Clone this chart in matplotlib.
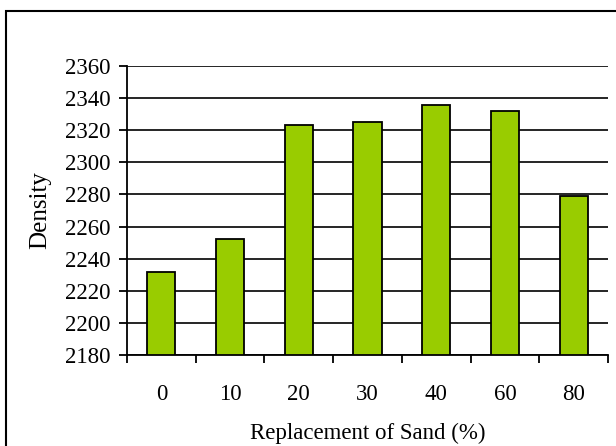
import matplotlib.pyplot as plt
import matplotlib.patches as patches
import numpy as np

# data
categories = ['0', '10', '20', '30', '40', '60', '80']
density = [2232, 2252, 2323, 2325, 2336, 2332, 2279]
yticks = list(range(2180, 2361, 20))

plt.rcParams['font.family'] = ['Liberation Serif', 'DejaVu Serif']

fig = plt.figure(figsize=(6.16, 4.46), dpi=100)
ax = fig.add_axes([127 / 616, 1 - 355 / 446, (608 - 127) / 616, (355 - 66) / 446])

x = np.arange(len(categories))
ax.bar(x, np.array(density) - 2180, bottom=2180, width=0.41,
       color='#99CC00', edgecolor='black', linewidth=1.3, zorder=3)

ax.set_ylim(2180, 2360)
ax.set_yticks(yticks)
ax.yaxis.grid(True, color='black', linewidth=1.2, zorder=0)

ax.set_xlim(-0.5, len(categories) - 0.5)
ax.set_xticks(np.arange(len(categories) + 1) - 0.5)
ax.set_xticklabels([])
ax.set_xticks(x, minor=True)
ax.set_xticklabels(categories, minor=True)
ax.tick_params(axis='x', which='major', direction='out', length=6, width=1.3)
ax.tick_params(axis='x', which='minor', length=0, pad=21, labelsize=16.5)
ax.tick_params(axis='y', direction='out', length=6, width=1.3, pad=6, labelsize=16.5)

for side in ['top', 'right']:
    ax.spines[side].set_visible(False)
for side in ['left', 'bottom']:
    ax.spines[side].set_linewidth(1.3)

ax.set_ylabel('Density', fontsize=18, labelpad=10)
ax.set_xlabel('Replacement of Sand (%)', fontsize=16.5, labelpad=13)

# outer frame, cut off at right and bottom like the reference
top = 1 - 10.5 / 446
frame = patches.Rectangle((6 / 616, -0.2), 1.2, top + 0.2, transform=fig.transFigure,
                          fill=False, edgecolor='black', linewidth=1.5, clip_on=False)
fig.patches.append(frame)

fig.savefig('out.png', dpi=100)
